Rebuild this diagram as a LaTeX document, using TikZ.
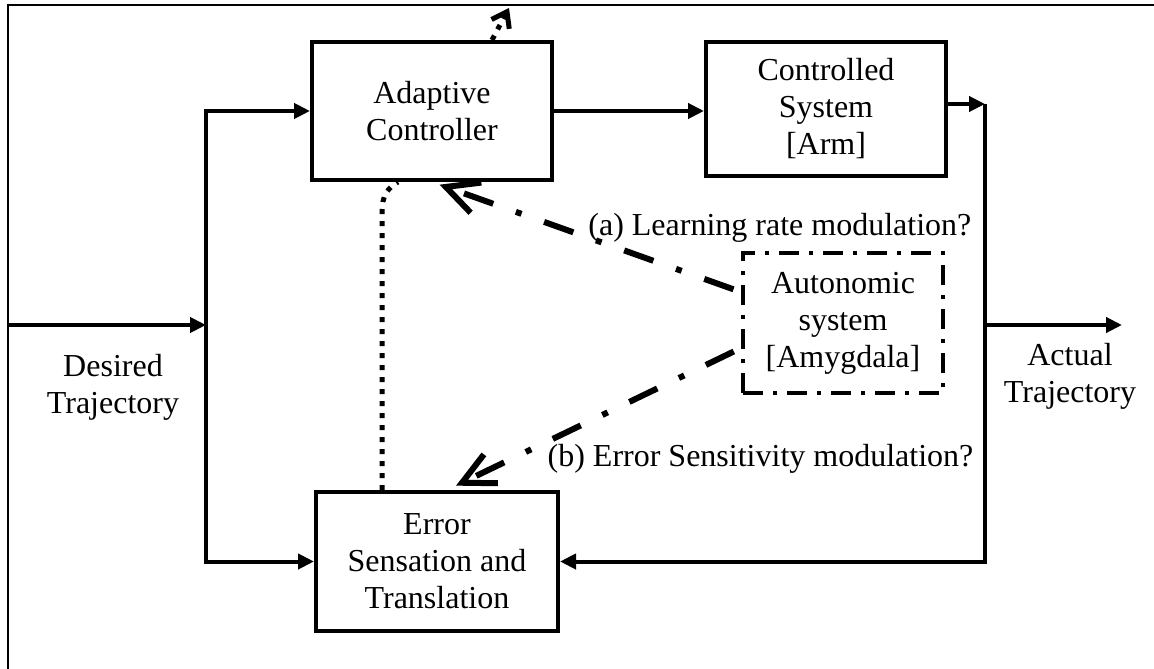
\documentclass[tikz,border=0pt]{standalone}
\usepackage{fontspec}
\setmainfont{Liberation Serif}
\usetikzlibrary{arrows.meta}

\begin{document}
\begin{tikzpicture}[x=0.5pt,y=-0.5pt,line width=2pt,
  every node/.style={font=\fontsize{16}{18.5}\selectfont,align=center},
  block/.style={draw,fill=white,inner sep=0pt},
  flow/.style={-{Triangle[length=8pt,width=7.5pt]}},
  modline/.style={line width=3pt,dash pattern=on 15.5pt off 12pt on 3pt off 12pt,
    -{Straight Barb[length=16pt,width=16pt]}},
  dots/.style={line width=2.5pt,dash pattern=on 2.5pt off 3.5pt}]

\useasboundingbox (0,0) rectangle (1154,668);
\draw[line width=0.75pt] (8,720) -- (8,5) -- (1220,5);

\node[block,minimum width=120pt,minimum height=69pt] (adapt) at (432,111) {Adaptive\\Controller};
\node[block,minimum width=120pt,minimum height=67pt] (ctrl) at (826,109) {Controlled\\System\\{[Arm]}};
\node[block,minimum width=121pt,minimum height=69.5pt] (err) at (437,561.5) {Error\\Sensation and\\Translation};
\node[draw,inner sep=0pt,minimum width=100pt,minimum height=70pt,
  dash pattern=on 10pt off 5pt on 2pt off 5pt] (auto) at (843,323) {Autonomic\\system\\{[Amygdala]}};

\node (din) at (113,387) {Desired\\Trajectory};
\node (dout) at (1070,376) {Actual\\Trajectory};
\node[anchor=base east] (la) at (980,235) {(a) Learning rate modulation?};
\node[anchor=base east] (lb) at (982,466) {(b) Error Sensitivity modulation?};

\coordinate (in) at (8,325);
\coordinate (split) at (206,325);
\coordinate (tap) at (985,104);
\coordinate (out) at (1122,325);
\coordinate (up) at (509,8);

\draw[flow] (in) -- (split);
\draw[flow] (split) |- (adapt.west);
\draw[flow] (split) |- (err.west);
\draw[flow] (adapt.east) -- (adapt.east -| ctrl.west);
\draw[flow] (ctrl.east |- tap) -- (tap);
\draw[flow] (tap) |- (err.east);
\draw[flow] (tap |- out) -- (out);

\draw[dots] ([xshift=-27.5pt]err.north) -- (382,212) .. controls (382,195) and (388,188) .. ([xshift=-17pt]adapt.south);
\draw[dots,-{Straight Barb[length=7pt,width=10pt]}] ([xshift=30pt]adapt.north) -- (up);

\draw[modline,shorten <=4pt,shorten >=4pt] ([yshift=15.5pt]auto.west) -- (adapt.south);
\draw[modline,shorten <=4pt,shorten >=5pt] ([yshift=-12.5pt]auto.west) -- ([xshift=5pt]err.north);

\end{tikzpicture}
\end{document}
